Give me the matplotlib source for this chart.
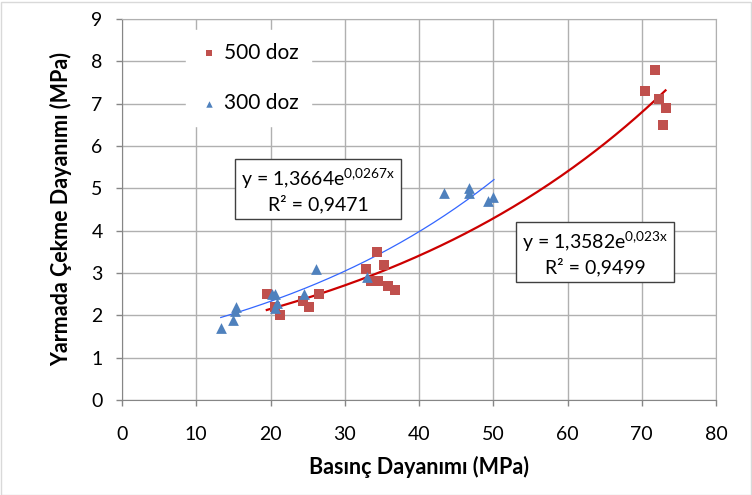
import numpy as np
import matplotlib
matplotlib.use("Agg")
import matplotlib.pyplot as plt
from matplotlib.patches import Rectangle

plt.rcParams['font.family'] = ['Lato', 'DejaVu Sans']
plt.rcParams['mathtext.fontset'] = 'custom'
plt.rcParams['mathtext.rm'] = 'Lato'
plt.rcParams['mathtext.default'] = 'regular'

# 500 doz (red squares)
x_500 = [19.5, 20.6, 21.3, 24.4, 25.2, 26.5, 32.9, 33.6, 34.4, 34.5, 35.3, 35.8, 36.8,
         70.5, 71.8, 72.3, 72.8, 73.2]
y_500 = [2.5, 2.2, 2.0, 2.35, 2.2, 2.5, 3.1, 2.8, 3.5, 2.8, 3.2, 2.7, 2.6,
         7.3, 7.8, 7.1, 6.5, 6.9]

# 300 doz (blue triangles)
x_300 = [13.3, 14.9, 15.2, 15.4, 20.2, 20.6, 20.9, 20.6, 24.5, 26.1, 33.0,
         43.3, 46.7, 46.7, 49.3, 50.0]
y_300 = [1.7, 1.9, 2.1, 2.2, 2.5, 2.5, 2.28, 2.17, 2.5, 3.1, 2.9,
         4.9, 5.0, 4.9, 4.7, 4.8]

# exponential trendlines y = a*exp(b*x)
fit_500 = (1.3582, 0.023)
fit_300 = (1.3664, 0.0267)
range_500 = (19.5, 73.2)
range_300 = (13.3, 50.1)

fig = plt.figure(figsize=(7.52, 4.95), dpi=100)
ax = fig.add_axes([122 / 752, 95 / 495, 594 / 752, 381 / 495])

grid_col = '#b0b0b0'
ax.set_xlim(0, 80)
ax.set_ylim(0, 9)
ax.set_xticks(range(0, 81, 10))
ax.set_yticks(range(0, 10))
ax.grid(True, color=grid_col, linewidth=1.0)
ax.set_axisbelow(True)
for s in ['top', 'right']:
    ax.spines[s].set_color(grid_col)
for s in ['left', 'bottom']:
    ax.spines[s].set_color('#868686')
ax.tick_params(length=4, width=1, color='#868686', labelsize=14)
ax.tick_params(axis='y', pad=10)
ax.tick_params(axis='x', pad=15)

xx = np.linspace(*range_500, 200)
ax.plot(xx, fit_500[0] * np.exp(fit_500[1] * xx), color='#cc0000', lw=1.6, zorder=2)
xx = np.linspace(*range_300, 200)
ax.plot(xx, fit_300[0] * np.exp(fit_300[1] * xx), color='#3366ff', lw=0.9, zorder=2)

ax.scatter(x_500, y_500, marker='s', s=45, color='#c0504d', label='500 doz', zorder=3,
           linewidths=0)
ax.scatter(x_300, y_300, marker='^', s=60, color='#4f81bd', label='300 doz', zorder=3,
           linewidths=0)

ax.set_xlabel('Basınç Dayanımı (MPa)', fontsize=15.5, fontweight='bold', labelpad=9)
ax.set_ylabel('Yarmada Çekme Dayanımı (MPa)', fontsize=15.5, fontweight='bold', labelpad=14)

leg = ax.legend(loc='upper left', bbox_to_anchor=(176 / 752, 1 - 20 / 495),
                bbox_transform=fig.transFigure, fontsize=15, frameon=True,
                fancybox=False, edgecolor='white', facecolor='white', framealpha=1,
                markerscale=0.6, handlelength=1.0, handletextpad=0.2,
                labelspacing=1.45, borderpad=0.6)

box = dict(boxstyle='square,pad=0.3', facecolor='white', edgecolor='#404040', linewidth=1)
ax.text(26.4, 4.96, 'y = 1,3664e$^{0{,}0267x}$\nR² = 0,9471', fontsize=14,
        ha='center', va='center', multialignment='center', bbox=box, zorder=4)
ax.text(63.7, 3.47, 'y = 1,3582e$^{0{,}023x}$\nR² = 0,9499', fontsize=14,
        ha='center', va='center', multialignment='center', bbox=box, zorder=4)

fig.add_artist(Rectangle((0.5 / 752, 0.5 / 495), 750 / 752, 493 / 495,
                         transform=fig.transFigure, fill=False, edgecolor='#d9d9d9', lw=1))

fig.savefig('out.png', dpi=100)
